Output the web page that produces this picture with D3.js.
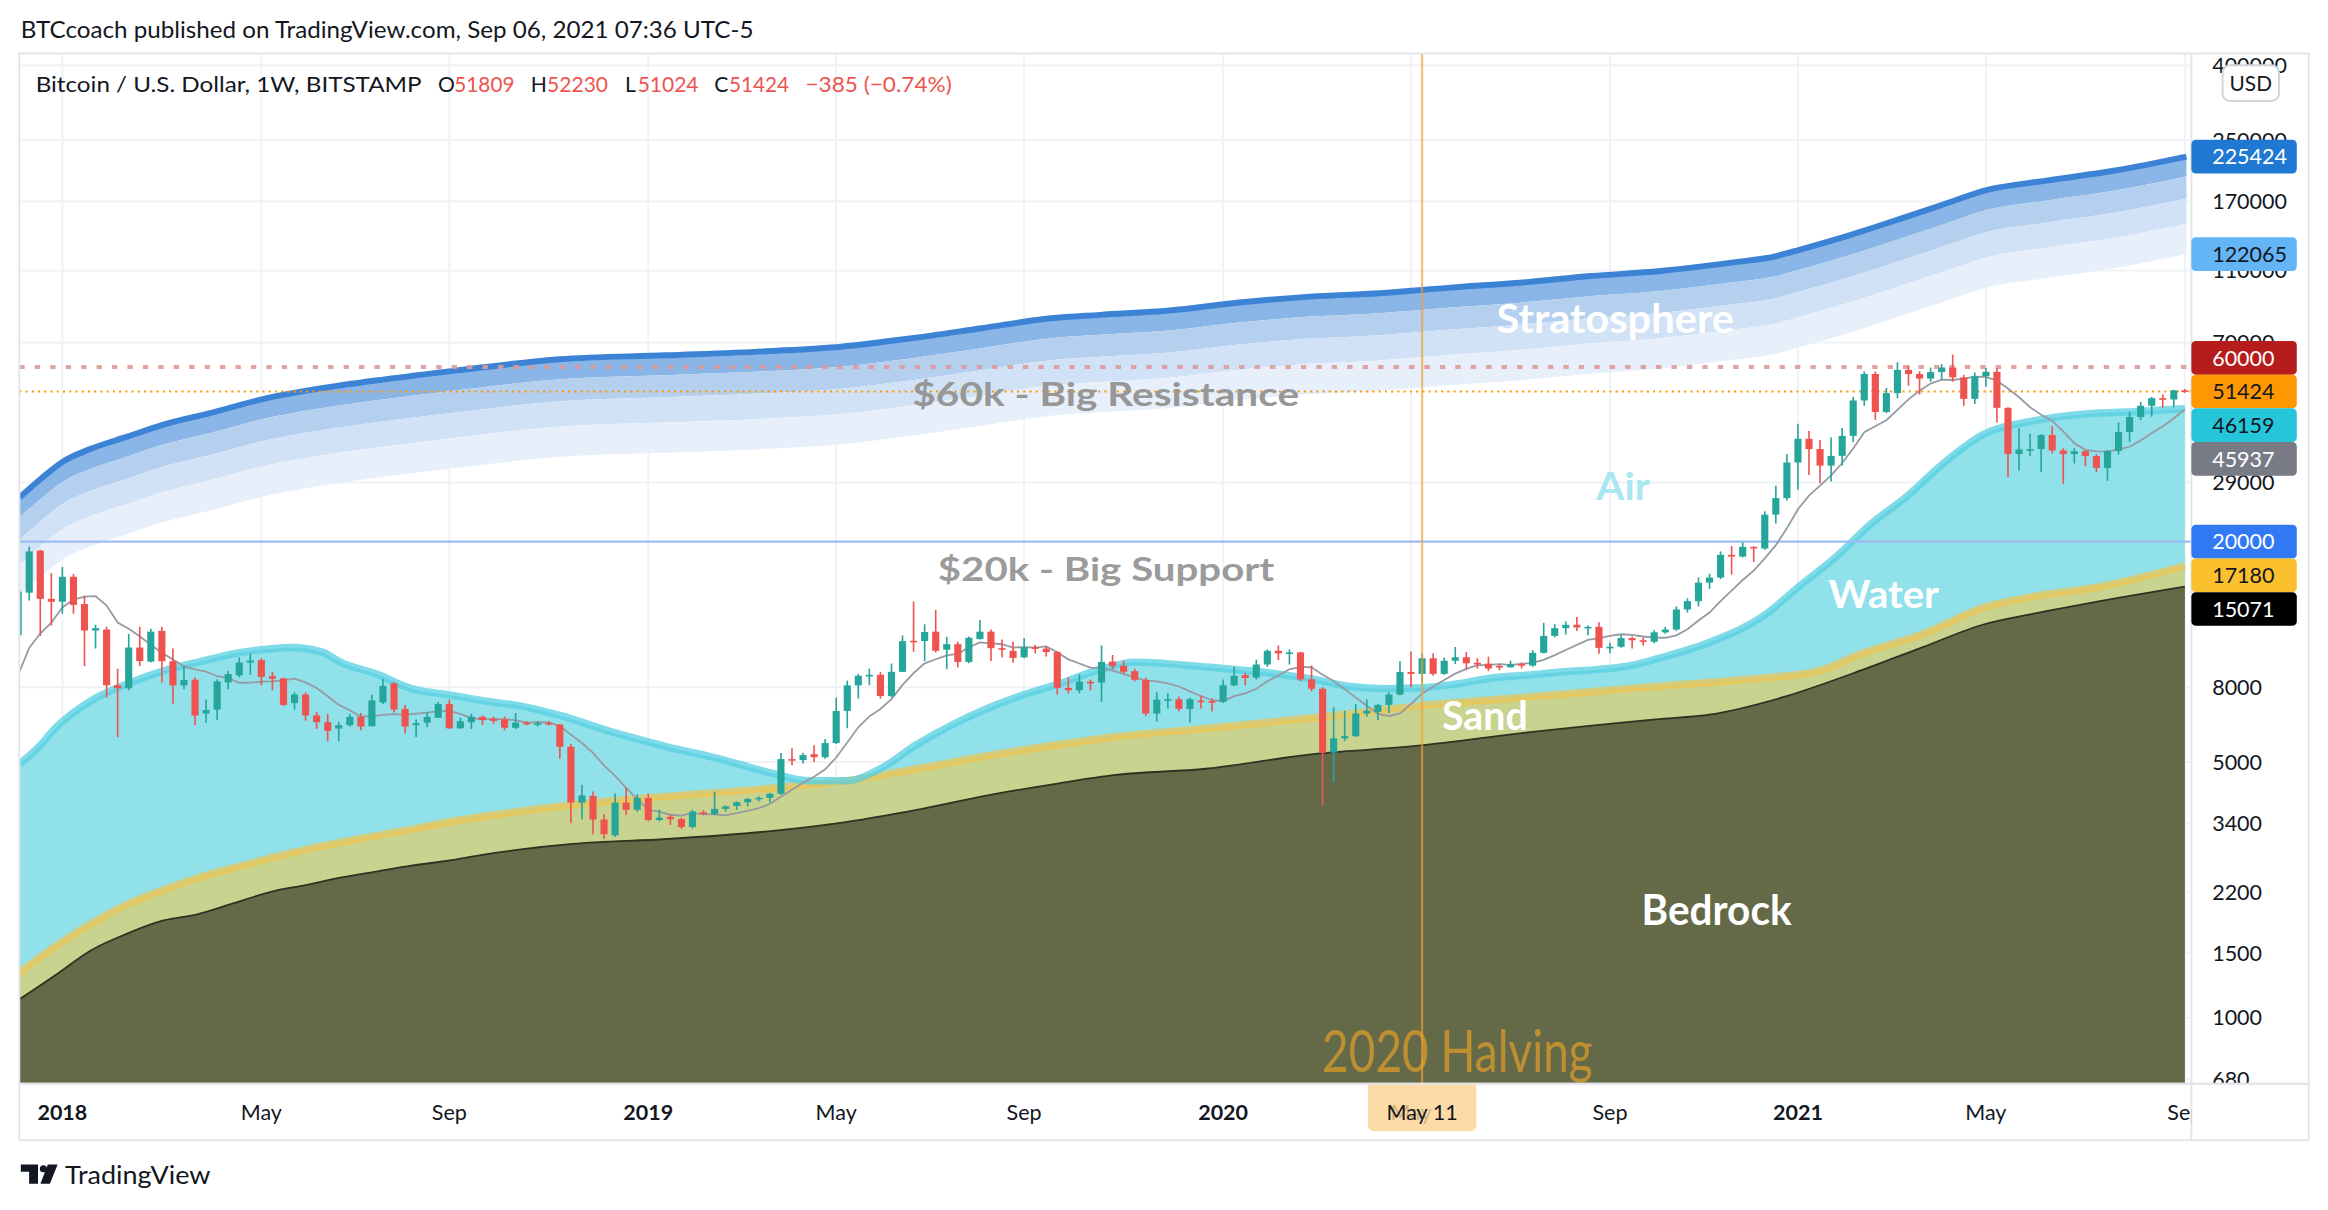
<!DOCTYPE html>
<html><head><meta charset="utf-8">
<script src="https://cdn.jsdelivr.net/npm/d3@7"></script>
<style>html,body{margin:0;padding:0;background:#fff;overflow:hidden}svg{display:block}</style>
</head><body>
<svg id="chart" width="2328" height="1210" viewBox="0 0 1568 815"></svg>
<script>
// ---------------- DATA ----------------
const firstWeek = "2017-12-04";
const preCloses = [6000, 6150, 7400, 6350, 8050, 9350, 11250];
const opens = [
11100,14500,18900,13950,13700,16030,13500,11430,11500,8100,
7950,10270,9400,11400,9420,8095,8390,6780,6950,8250,
8620,9340,9490,8580,8460,7240,7640,6700,6420,6170,
6300,6640,6260,7270,8200,6980,6300,6400,6600,7200,
6180,6420,6640,6560,6540,6200,6400,6330,6390,6330,
5500,3870,4040,3480,3150,3870,3700,3990,3470,3540,
3490,3320,3640,3600,3720,3790,3880,3960,3990,4090,
5090,5060,5250,5150,5630,6890,8095,8600,8650,7570,
8815,10720,10700,11350,10130,10490,9380,10830,11350,10230,
10060,9660,10290,10200,9980,7970,7850,8280,8240,9400,
9150,8850,8380,6780,7380,7420,6980,7360,7330,7300,
8095,8630,8500,9230,10060,9900,9960,8400,7925,5300,
5800,5880,6780,6850,7160,7640,8800,8700,9600,8700,
9450,9660,9330,9280,9150,9070,9250,9170,9930,11050,
11600,11850,11650,11700,10250,10320,10900,10750,10650,11300,
11500,13050,13750,15450,15950,18400,18200,19350,19150,23700,
26300,32900,38200,35800,32250,34300,38900,48600,57400,45200,
50900,58900,57400,55800,58100,59800,56200,49100,56600,58200,
46400,34700,35700,35800,39100,35500,34700,35300,34250,31800,
35400,39850,43800,47000,49300,48900,51809];
const highs = [
16500,19400,19000,16400,17050,16300,14220,11850,11700,8980,
11190,11710,11550,11700,10200,9140,8500,7410,8400,8860,
9640,9870,9600,8810,8500,7750,7750,6850,6770,6440,
6770,6800,7630,8430,8250,7150,6530,6850,7300,7400,
6600,6770,6700,6650,6650,6800,6450,6460,6460,6350,
5600,4330,4150,3600,4100,4250,4080,4100,3700,3590,
3520,3700,3690,4150,3800,3900,3990,4030,4120,5285,
5450,5300,5550,5780,7500,8340,8700,9000,8800,9285,
11080,13720,11890,13020,10980,10650,11000,12220,11500,10800,
10650,10900,10450,10350,10050,8500,8680,8400,10400,9800,
9455,9000,8500,7750,7700,7550,7500,7600,7470,8400,
9100,8750,9520,10150,10400,10150,10000,9170,8000,7050,
6900,7200,7400,7200,7750,9430,10020,9900,9900,9650,
10300,9980,9600,9700,9250,9450,9350,10100,12000,11900,
12100,12450,11800,12050,10600,11100,11000,10950,11450,11700,
13300,14000,15950,16350,18800,19450,19900,19400,24200,28400,
34700,41950,40100,37900,38500,40900,49700,58300,58300,52600,
61800,60600,58400,59800,61100,64900,57100,58000,59600,59600,
46600,40800,39400,39300,41300,36000,36000,35500,34650,35500,
42300,45300,48100,49700,50500,52000,52230];
const lows = [
10800,13800,11050,11800,12700,12700,9140,10200,7500,5840,
7850,9140,9350,8240,7210,7900,6300,6400,6520,7900,
8500,8640,8095,7850,7100,6950,6480,6155,5700,5700,
6250,6100,6250,7200,6820,5980,5850,6220,6600,6155,
6150,6150,6320,6350,6100,6150,6300,6250,6300,5100,
3400,3480,3172,3080,3120,3580,3650,3440,3440,3360,
3280,3290,3580,3580,3660,3700,3780,3900,3870,4070,
4900,4950,5000,5100,5600,6180,7450,8100,7450,7500,
8800,10000,9430,9950,8960,9060,9300,10800,9430,9640,
9330,9600,9900,9700,7640,7700,7700,7850,7300,8950,
8700,8300,6680,6440,7000,6880,6400,7000,6870,7250,
8050,8100,8400,9100,9500,9230,8300,7800,3800,4400,
5700,5850,6650,6500,6800,7600,8000,8200,8600,8650,
9250,8950,9000,8850,8900,9050,9000,9100,9900,10950,
11150,11400,11100,9880,9900,10250,10200,10400,10550,11200,
11400,12800,13300,14850,15800,16250,18100,17600,19000,22400,
25900,27700,30400,28850,29200,32300,37400,47000,43000,44900,
49300,53300,50400,54700,55400,54700,47000,47500,53000,42300,
30000,31300,34200,31000,34800,28800,32700,32200,31000,29300,
34600,37500,42900,43900,46400,46600,51024];
const closes = [
14600,18800,13950,13700,16030,13430,11430,11600,8100,7950,
10270,9430,11350,9420,8095,8370,6695,6930,8300,8685,
9340,9460,8540,8440,7160,7640,6700,6420,6080,6300,
6640,6250,7360,8070,6950,6250,6380,6640,7200,6180,
6460,6640,6510,6470,6200,6400,6340,6380,6330,5500,
3870,4050,3480,3172,3870,3700,3990,3470,3520,3490,
3318,3660,3610,3720,3780,3880,3960,3990,4090,5090,
5060,5220,5150,5630,6890,8095,8600,8650,7570,8815,
10690,10620,11320,10060,10490,9380,10920,11350,10230,10130,
9620,10290,10200,9980,7970,7850,8280,8220,9380,9150,
8815,8380,6780,7400,7420,6980,7420,7290,7300,8095,
8600,8480,9230,10060,9900,9960,8400,7925,5300,5800,
5880,6780,6900,7160,7640,8800,8700,9600,8700,9450,
9660,9300,9280,9000,9070,9250,9170,9930,11050,11600,
11850,11650,11700,10250,10320,10900,10750,10650,11300,11500,
13050,13750,15450,15950,18400,18200,19350,19150,23700,26300,
32900,38200,35800,32250,34300,38900,48600,57400,45200,50900,
58900,57400,55800,58100,59800,56200,49100,56600,58200,46400,
34700,35700,35800,39100,35500,34700,35300,34250,31800,35400,
39850,43800,47000,49300,48900,51800,51424];

const stratDates = ["2017-12-05","2017-12-19","2018-01-02","2018-01-19","2018-02-11","2018-03-06","2018-04-04","2018-05-10","2018-06-10","2018-07-24","2018-09-07","2018-11-12","2019-01-18","2019-03-26","2019-05-09","2019-06-23","2019-08-06","2019-09-19","2019-10-20","2019-12-03","2020-01-16","2020-03-01","2020-04-14","2020-05-29","2020-07-12","2020-08-26","2020-10-09","2020-11-23","2020-12-20","2021-01-06","2021-02-06","2021-03-14","2021-04-05","2021-05-04","2021-06-10","2021-07-24","2021-09-07"];
const stratValues = [26440,29850,33200,35850,38700,41750,44830,49270,52150,55520,58660,62990,64580,66350,68180,71910,76560,81520,83290,85570,89990,93420,95440,98880,101970,106350,109790,115700,120200,125840,137600,154530,166200,182850,193750,206500,225424];
const bandFactors = [1, 0.882, 0.768, 0.655, 0.5415];

const waterDates = ["2017-12-05","2017-12-17","2017-12-28","2018-01-19","2018-02-11","2018-03-06","2018-03-28","2018-04-19","2018-05-12","2018-05-26","2018-06-15","2018-06-26","2018-07-19","2018-08-10","2018-09-02","2018-09-25","2018-10-17","2018-11-12","2018-12-16","2019-01-19","2019-02-21","2019-03-27","2019-04-19","2019-05-12","2019-06-03","2019-06-26","2019-07-18","2019-08-10","2019-09-02","2019-09-24","2019-10-20","2019-11-11","2019-12-26","2020-02-10","2020-03-03","2020-03-26","2020-04-18","2020-05-10","2020-06-02","2020-06-24","2020-07-17","2020-08-09","2020-08-31","2020-09-23","2020-10-06","2020-11-10","2020-12-14","2021-01-05","2021-01-28","2021-02-20","2021-03-14","2021-04-05","2021-05-01","2021-06-01","2021-07-05","2021-08-08","2021-09-06"];
const waterValues = [4940,5495,6210,7340,8170,8870,9370,9870,10180,10270,9960,9370,8690,7930,7640,7340,7130,6700,6020,5500,5100,4650,4440,4440,4790,5580,6300,7010,7640,8170,8950,9370,9090,8690,8420,8040,7930,7970,8170,8480,8640,8820,8950,9230,9550,10650,12600,15120,18160,22490,26590,32420,39190,42660,44660,45380,46159];

const sandDates = ["2017-12-05","2017-12-28","2018-01-19","2018-02-11","2018-03-06","2018-03-28","2018-04-19","2018-05-12","2018-06-04","2018-06-26","2018-07-19","2018-08-10","2018-09-02","2018-09-25","2018-10-17","2018-11-20","2019-01-19","2019-03-27","2019-05-12","2019-06-26","2019-08-10","2019-09-24","2019-10-30","2019-12-26","2020-03-03","2020-05-10","2020-07-17","2020-10-06","2020-12-02","2021-01-17","2021-02-13","2021-03-25","2021-05-01","2021-06-01","2021-07-16","2021-09-06"];
const sandValues = [1331,1573,1805,2040,2235,2413,2564,2725,2879,3014,3146,3272,3425,3552,3663,3820,4026,4242,4441,4790,5200,5579,5860,6170,6600,7125,7522,8043,8396,8873,9870,11217,13186,14140,15120,17180];

const bedrockDates = ["2017-12-05","2017-12-28","2018-01-19","2018-02-11","2018-03-06","2018-03-28","2018-04-19","2018-05-12","2018-06-04","2018-06-26","2018-07-19","2018-08-10","2018-09-02","2018-09-25","2018-10-17","2018-11-20","2019-01-19","2019-03-27","2019-05-12","2019-06-26","2019-08-10","2019-09-24","2019-10-30","2019-12-26","2020-03-03","2020-05-10","2020-07-17","2020-10-06","2020-11-10","2020-12-25","2021-02-08","2021-03-25","2021-05-01","2021-06-01","2021-07-16","2021-09-06"];
const bedrockValues = [1125,1311,1527,1698,1844,1920,2053,2202,2305,2413,2509,2603,2685,2792,2879,2985,3079,3241,3425,3698,4052,4371,4606,4790,5250,5546,6021,6538,6743,7502,8735,10333,11853,12677,13803,15071];

const priceTicks = [400000,250000,170000,110000,70000,29000,8000,5000,3400,2200,1500,1000,680];
const timeTickDates = ["2018-01-01","2018-05-07","2018-09-03","2019-01-07","2019-05-06","2019-09-02","2020-01-06","2020-05-04","2020-09-07","2021-01-04","2021-05-03","2021-09-06"];
const timeTickLabels = ["2018","May","Sep","2019","May","Sep","2020","May","Sep","2021","May","Sep"];
const halvingDate = "2020-05-11";
const halvingLabel = "May 11";
const levelValues = [60000, 51424, 20000];
const lastValueLabels = [225424, 122065, 60000, 51424, 46159, 45937, 20000, 17180, 15071];
const headerText = "BTCcoach published on TradingView.com, Sep 06, 2021 07:36 UTC-5";
const legendTitle = "Bitcoin / U.S. Dollar, 1W, BITSTAMP";
const legendChange = "\u2212385 (\u22120.74%)";
const zoneNames = ["Stratosphere","$60k - Big Resistance","Air","$20k - Big Support","Water","Sand","Bedrock","2020 Halving"];

// ---------------- SETUP ----------------
const parse = d3.utcParse("%Y-%m-%d");
const svg = d3.select("#chart");
const FONT = "'Trebuchet MS', Lato, 'Open Sans', sans-serif";
svg.attr("font-family", FONT);
const P = {x0: 13, x1: 1476, y0: 36, y1: 730, ax1: 1555, ty1: 768};
const x = d3.scaleUtc().domain([parse("2018-01-01"), parse("2021-01-04")]).range([42, 1211]);
const y = d3.scaleLog().domain([1000, 100000]).range([685.5, 192.5]);

const defs = svg.append("defs");
defs.append("clipPath").attr("id","plotClip").append("rect")
  .attr("x", P.x0).attr("y", P.y0).attr("width", P.x1 - P.x0).attr("height", P.y1 - P.y0);
defs.append("clipPath").attr("id","paxClip").append("rect")
  .attr("x", P.x1).attr("y", P.y0).attr("width", P.ax1 - P.x1).attr("height", P.y1 - P.y0);
defs.append("clipPath").attr("id","taxClip").append("rect")
  .attr("x", P.x0).attr("y", P.y1).attr("width", P.x1 - P.x0).attr("height", P.ty1 - P.y1);

svg.append("rect").attr("width",1568).attr("height",815).attr("fill","#ffffff");

const plot = svg.append("g").attr("clip-path","url(#plotClip)");

// grid
const gridC = "#f0f2f6";
plot.append("g").selectAll("line").data(priceTicks).join("line")
  .attr("x1", P.x0).attr("x2", P.x1).attr("y1", d=>y(d)).attr("y2", d=>y(d))
  .attr("stroke", gridC).attr("stroke-width", 1.3);
plot.append("g").selectAll("line").data(timeTickDates).join("line")
  .attr("x1", d=>x(parse(d))).attr("x2", d=>x(parse(d))).attr("y1", P.y0).attr("y2", P.y1)
  .attr("stroke", gridC).attr("stroke-width", 1.3);

function series(dates, values){ return dates.map((d,i)=>({date: parse(d), v: values[i]})); }
const strat = series(stratDates, stratValues);
const water = series(waterDates, waterValues);
const sand = series(sandDates, sandValues);
const bedrock = series(bedrockDates, bedrockValues);
const curve = d3.curveMonotoneX;

// stratosphere bands
const bandColors = ["#8ab6e7","#b4d0ee","#d1e2f6","#e6effa"];
for (let i = 0; i < 4; i++) {
  const a = d3.area().curve(curve).x(d=>x(d.date))
    .y0(d=>y(d.v*bandFactors[i+1])).y1(d=>y(d.v*bandFactors[i]));
  plot.append("path").datum(strat).attr("d", a).attr("fill", bandColors[i]);
}
plot.append("path").datum(strat)
  .attr("d", d3.line().curve(curve).x(d=>x(d.date)).y(d=>y(d.v)))
  .attr("fill","none").attr("stroke","#3c83d6").attr("stroke-width",4);

// water, sand, bedrock fills
const bottom = P.y1 + 2;
function areaTo(data){ return d3.area().curve(curve).x(d=>x(d.date)).y0(bottom).y1(d=>y(d.v))(data); }
plot.append("path").attr("d", areaTo(water)).attr("fill","#91e1ea");
plot.append("path").attr("d", areaTo(sand)).attr("fill","#c8d38f");
plot.append("path").attr("d", areaTo(bedrock)).attr("fill","#646a48");
const lineGen = d3.line().curve(curve).x(d=>x(d.date)).y(d=>y(d.v));
plot.append("path").attr("d", lineGen(bedrock)).attr("fill","none").attr("stroke","#2e3220").attr("stroke-width",1.2);
plot.append("path").attr("d", lineGen(sand)).attr("fill","none").attr("stroke","#f1c34c").attr("stroke-width",5).attr("stroke-opacity",0.7);
plot.append("path").attr("d", lineGen(water)).attr("fill","none").attr("stroke","#55cfe1").attr("stroke-width",5).attr("stroke-opacity",0.75);

// level lines
plot.append("line").attr("x1",P.x0).attr("x2",P.x1).attr("y1",y(levelValues[0])).attr("y2",y(levelValues[0]))
  .attr("stroke","#dd9a9a").attr("stroke-opacity",0.9).attr("stroke-width",2.6).attr("stroke-dasharray","3.6,6.8");
plot.append("line").attr("x1",P.x0).attr("x2",P.x1).attr("y1",y(levelValues[1])).attr("y2",y(levelValues[1]))
  .attr("stroke","#ff9800").attr("stroke-width",1.3).attr("stroke-dasharray","1.4,2.8");
plot.append("line").attr("x1",P.x0).attr("x2",P.x1).attr("y1",y(levelValues[2])).attr("y2",y(levelValues[2]))
  .attr("stroke","#9dbcf2").attr("stroke-width",1.6);

// candles data
const week0 = parse(firstWeek);
const candles = opens.map((o,i)=>({date: d3.utcDay.offset(week0, 7*i), o, h: highs[i], l: lows[i], c: closes[i]}));
// 8-week SMA of closes (gray line)
const allCloses = preCloses.concat(closes);
const sma = candles.map((c,i)=>({date: c.date, v: d3.mean(allCloses.slice(i, i+8))}));
plot.append("path").attr("d", d3.line().x(d=>x(d.date)).y(d=>y(d.v))(sma))
  .attr("fill","none").attr("stroke","#979aa2").attr("stroke-width",1.2);

const up = "#26a69a", dn = "#ef5350";
const cg = plot.append("g");
cg.selectAll("line").data(candles).join("line")
  .attr("x1", d=>x(d.date)).attr("x2", d=>x(d.date))
  .attr("y1", d=>y(d.h)).attr("y2", d=>y(d.l))
  .attr("stroke", d=>d.c>=d.o?up:dn).attr("stroke-width",1.1);
const bw = 4.8;
cg.selectAll("rect").data(candles).join("rect")
  .attr("x", d=>x(d.date)-bw/2).attr("width", bw)
  .attr("y", d=>y(Math.max(d.o,d.c)))
  .attr("height", d=>Math.max(1.1, y(Math.min(d.o,d.c)) - y(Math.max(d.o,d.c))))
  .attr("fill", d=>d.c>=d.o?up:dn);

// halving vertical line
const hx = x(parse(halvingDate));
plot.append("line").attr("x1",hx).attr("x2",hx).attr("y1",P.y0).attr("y2",P.y1)
  .attr("stroke","#f0a030").attr("stroke-opacity",0.65).attr("stroke-width",1.5);

// zone annotations
const annot = [
  {x:1008, y:224.5, size:26.5, w:160, fill:"#ffffff", weight:700, op:1},
  {x:614.5, y:273.6, size:22, w:260.5, fill:"#979797", weight:700, op:1},
  {x:1075.2, y:336.6, size:26, w:36, fill:"#a9e7f1", weight:700, op:1},
  {x:631.6, y:391.4, size:21.7, w:226.7, fill:"#9b9b9b", weight:700, op:1},
  {x:1231.5, y:409.4, size:26, w:74.5, fill:"#ffffff", weight:700, op:1},
  {x:971.3, y:491.7, size:27, w:57.7, fill:"#ffffff", weight:700, op:1},
  {x:1105.7, y:623.2, size:28, w:101, fill:"#ffffff", weight:700, op:1},
  {x:890.5, y:722, size:38.5, w:182.3, fill:"#f5a623", weight:400, op:0.62}
];
const ag = plot.append("g");
zoneNames.forEach((t,i)=>{
  const a = annot[i];
  ag.append("text").text(t).attr("x",a.x).attr("y",a.y).attr("font-size",a.size)
    .attr("font-weight",a.weight).attr("fill",a.fill).attr("fill-opacity",a.op)
    .attr("textLength",a.w).attr("lengthAdjust","spacingAndGlyphs");
});

// frame
svg.append("rect").attr("x",P.x0).attr("y",P.y0).attr("width",P.ax1-P.x0).attr("height",P.ty1-P.y0)
  .attr("fill","none").attr("stroke","#e3e5ea").attr("stroke-width",1.3);
svg.append("line").attr("x1",P.x1).attr("x2",P.x1).attr("y1",P.y0).attr("y2",P.ty1).attr("stroke","#e3e5ea").attr("stroke-width",1.3);
svg.append("line").attr("x1",P.x0).attr("x2",P.ax1).attr("y1",P.y1).attr("y2",P.y1).attr("stroke","#e3e5ea").attr("stroke-width",1.3);

// header & legend
const ink = "#131722";
svg.append("text").text(headerText).attr("x",14).attr("y",25.4).attr("font-size",15.5).attr("fill",ink)
  .attr("textLength",493.5).attr("lengthAdjust","spacingAndGlyphs");
const lg = svg.append("g").attr("font-size",14.2);
const legendItems = [
  {t: legendTitle, x:24, w:260, c:ink},
  {t:"O", x:295, c:ink}, {t: String(opens[opens.length-1]), x:306, w:40.5, c:dn},
  {t:"H", x:357.5, c:ink}, {t: String(highs[highs.length-1]), x:368.5, w:41, c:dn},
  {t:"L", x:421, c:ink}, {t: String(lows[lows.length-1]), x:429.5, w:41, c:dn},
  {t:"C", x:481, c:ink}, {t: String(closes[closes.length-1]), x:491, w:40.5, c:dn},
  {t: legendChange, x:542.5, w:98.5, c:dn}
];
legendItems.forEach(it=>{
  const t = lg.append("text").text(it.t).attr("x",it.x).attr("y",61.7).attr("fill",it.c);
  if (it.w) t.attr("textLength",it.w).attr("lengthAdjust","spacingAndGlyphs");
});

// price axis tick labels
const pax = svg.append("g").attr("clip-path","url(#paxClip)");
pax.selectAll("text").data(priceTicks).join("text")
  .attr("x",1490).attr("y",d=>y(d)).attr("dy","0.36em").attr("font-size",14.5).attr("fill",ink)
  .text(d=>String(d));

// last value labels with stacking
const labelStyle = {
  225424:{bg:"#1f78d1",fg:"#fff"}, 122065:{bg:"#64b5f6",fg:"#131722"}, 60000:{bg:"#b71c1c",fg:"#fff"},
  51424:{bg:"#ff9800",fg:"#131722"}, 46159:{bg:"#26c6da",fg:"#131722"}, 45937:{bg:"#787b86",fg:"#fff"},
  20000:{bg:"#3179f5",fg:"#fff"}, 17180:{bg:"#fbc02d",fg:"#131722"}, 15071:{bg:"#000000",fg:"#fff"}
};
const LH = 22.7;
const labs = lastValueLabels.map(v=>({v, y: y(v)})).sort((a,b)=>a.y-b.y);
const ai = labs.findIndex(d=>d.v===closes[closes.length-1]);
for (let i = ai+1; i < labs.length; i++) labs[i].y = Math.max(labs[i].y, labs[i-1].y + LH);
for (let i = ai-1; i >= 0; i--) labs[i].y = Math.min(labs[i].y, labs[i+1].y - LH);
const lbg = svg.append("g");
labs.forEach(d=>{
  const s = labelStyle[d.v];
  lbg.append("rect").attr("x",P.x1).attr("y",d.y-LH/2).attr("width",71).attr("height",LH).attr("rx",3).attr("fill",s.bg);
  lbg.append("text").attr("x",1490).attr("y",d.y).attr("dy","0.36em").attr("font-size",14.5).attr("fill",s.fg).text(String(d.v));
});
// USD badge
svg.append("rect").attr("x",1497).attr("y",44).attr("width",38).attr("height",24).attr("rx",5)
  .attr("fill","#fff").attr("stroke","#d1d4dc").attr("stroke-width",1.3);
svg.append("text").attr("x",1516).attr("y",56).attr("dy","0.36em").attr("text-anchor","middle")
  .attr("font-size",14).attr("fill",ink).text("USD");

// time axis
const tax = svg.append("g").attr("clip-path","url(#taxClip)");
tax.selectAll("text").data(timeTickDates).join("text")
  .attr("x",d=>x(parse(d))).attr("y",754.3).attr("text-anchor","middle").attr("font-size",14.5)
  .attr("font-weight",(d,i)=>/^\d{4}$/.test(timeTickLabels[i])?700:400).attr("fill",ink)
  .text((d,i)=>timeTickLabels[i]);
// halving marker on the time axis (semi-opaque so the tick label underneath shows through)
tax.append("rect").attr("x",hx-36.5).attr("y",P.y1-4).attr("width",73).attr("height",36).attr("rx",4)
  .attr("fill","#fdd393").attr("fill-opacity",0.82);
tax.append("text").attr("x",hx).attr("y",754.3).attr("text-anchor","middle").attr("font-size",14.5).attr("fill",ink).text(halvingLabel);
svg.append("line").attr("x1",P.x0).attr("x2",P.ax1).attr("y1",P.y1).attr("y2",P.y1).attr("stroke","#e3e5ea").attr("stroke-width",1.3);

// footer logo
const lgo = svg.append("g").attr("fill",ink);
lgo.append("path").attr("d","M14,784.3 H25.6 V797.3 H19.6 V789.3 H14 Z");
lgo.append("circle").attr("cx",29.2).attr("cy",787.2).attr("r",2.4);
lgo.append("path").attr("d","M32.2,784.3 H38.8 L33.6,797.3 H27.2 Z");
svg.append("text").attr("x",43.8).attr("y",797.4).attr("font-size",17.5).attr("fill",ink)
  .attr("textLength",98).attr("lengthAdjust","spacingAndGlyphs").text("TradingView");
</script>
</body></html>
